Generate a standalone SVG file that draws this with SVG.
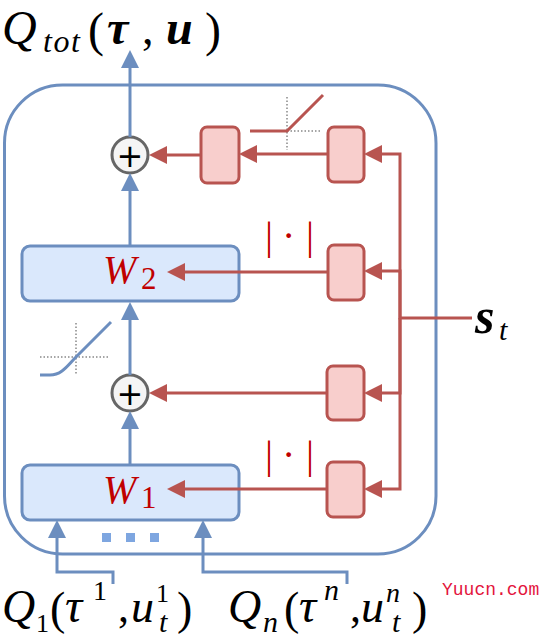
<svg xmlns="http://www.w3.org/2000/svg" width="549" height="640" viewBox="0 0 549 640">
<defs>
<style>
.bl{fill:none;stroke:#6c8ebf;stroke-width:3}
.rd{fill:none;stroke:#b85450;stroke-width:3}
.bbox{fill:#dae8fc;stroke:#6c8ebf;stroke-width:3}
.rbox{fill:#f8cecc;stroke:#b85450;stroke-width:3}
.sum{fill:#f5f5f5;stroke:#666666;stroke-width:3}
.dot{fill:none;stroke:#888888;stroke-width:1.5;stroke-dasharray:1.5 2}
.m{font-family:"Liberation Serif","DejaVu Serif",serif;fill:#000}
.i{font-style:italic}
.b{font-weight:bold;font-style:italic}
.w{fill:#c00000}
.abs{font-family:"Liberation Serif","DejaVu Serif",serif;fill:#c00000;font-size:40px}
.plus{font-family:"DejaVu Sans",sans-serif;font-size:32px;fill:#000;text-anchor:middle}
</style>
<marker id="ab" markerUnits="userSpaceOnUse" markerWidth="20" markerHeight="20" refX="14" refY="9" orient="auto"><path d="M0,0 L18,9 L0,18 z" fill="#6c8ebf"/></marker>
<marker id="ar" markerUnits="userSpaceOnUse" markerWidth="20" markerHeight="20" refX="14" refY="9" orient="auto"><path d="M0,0 L18,9 L0,18 z" fill="#b85450"/></marker>
</defs>
<rect id="mixer" x="4.5" y="85" width="431.5" height="469" rx="58" class="bl"/>
<g id="relu-icon">
<path class="dot" d="M287,97 L287,150 M287,131 L321,131"/>
<path class="rd" d="M250,131 L287,131 L323,95"/>
</g>
<g id="softplus-icon">
<path class="dot" d="M76,323 L76,375 M40,357 L110,357"/>
<path class="bl" d="M40,375 L50,375 C62,375 68,365 76,357 L111,322"/>
</g>
<g id="sum1"><circle cx="130" cy="155" r="18" class="sum"/><text class="plus" x="130" y="166.5">+</text></g>
<g id="sum2"><circle cx="130" cy="393" r="18" class="sum"/><text class="plus" x="130" y="404.5">+</text></g>
<g id="hyper-b2a"><rect x="201" y="127" width="38" height="56" rx="6" class="rbox"/></g>
<g id="hyper-b2b"><rect x="328" y="127" width="36" height="55" rx="6" class="rbox"/></g>
<g id="hyper-w2"><rect x="328" y="245" width="36" height="55" rx="6" class="rbox"/></g>
<g id="hyper-b1"><rect x="327" y="366" width="37" height="54" rx="6" class="rbox"/></g>
<g id="hyper-w1"><rect x="327" y="462" width="37" height="55" rx="6" class="rbox"/></g>
<g id="abs2"><text class="abs" y="249"><tspan x="265">|</tspan><tspan x="282">·</tspan><tspan x="306">|</tspan></text></g>
<g id="abs1"><text class="abs" y="468"><tspan x="265">|</tspan><tspan x="282">·</tspan><tspan x="306">|</tspan></text></g>
<g id="W2"><rect x="22" y="246" width="217" height="55" rx="8" class="bbox"/>
<text class="m w"><tspan class="i" x="103" y="283" font-size="40">W</tspan><tspan x="141" y="289" font-size="31">2</tspan></text></g>
<g id="W1"><rect x="22" y="465" width="217" height="55" rx="8" class="bbox"/>
<text class="m w"><tspan class="i" x="103" y="503" font-size="40">W</tspan><tspan x="141" y="508" font-size="31">1</tspan></text></g>
<g id="agent-dots" fill="#7ea6e0"><rect x="102" y="533" width="9" height="9"/><rect x="126" y="533" width="9" height="9"/><rect x="150" y="533" width="9" height="9"/></g>
<g id="connectors">
<path class="bl" d="M130,137 L130,54" marker-end="url(#ab)"/>
<path class="bl" d="M130,246 L130,177" marker-end="url(#ab)"/>
<path class="bl" d="M130,375 L130,306" marker-end="url(#ab)"/>
<path class="bl" d="M130,465 L130,415" marker-end="url(#ab)"/>
<path class="bl" d="M113,584 L113,572 L57,572 L57,524" marker-end="url(#ab)"/>
<path class="bl" d="M347,584 L347,572 L203,572 L203,524" marker-end="url(#ab)"/>
<path class="rd" d="M472,318 L400,318 L400,154 L368,154" marker-end="url(#ar)"/>
<path class="rd" d="M400,318 L400,271 L368,271" marker-end="url(#ar)"/>
<path class="rd" d="M400,318 L400,393 L368,393" marker-end="url(#ar)"/>
<path class="rd" d="M400,318 L400,489 L368,489" marker-end="url(#ar)"/>
<path class="rd" d="M328,154 L243,154" marker-end="url(#ar)"/>
<path class="rd" d="M201,155 L153,155" marker-end="url(#ar)"/>
<path class="rd" d="M328,272 L171,272" marker-end="url(#ar)"/>
<path class="rd" d="M327,393 L153,393" marker-end="url(#ar)"/>
<path class="rd" d="M327,489 L171,489" marker-end="url(#ar)"/>
</g>
<g id="title"><text class="m"><tspan class="i" x="2" y="44" font-size="48">Q</tspan><tspan class="i" x="43" y="52" font-size="32" letter-spacing="1.5">tot</tspan><tspan x="88" y="46" font-size="48">(</tspan><tspan class="b" x="107" y="44" font-size="48">τ</tspan><tspan x="142" y="44" font-size="46">,</tspan><tspan class="b" x="166" y="44" font-size="48">u</tspan><tspan x="205" y="46" font-size="48">)</tspan></text></g>
<g id="state"><text class="m"><tspan class="b" x="475" y="333" font-size="50">s</tspan><tspan class="i" x="499" y="340" font-size="30">t</tspan></text></g>
<g id="q1"><text class="m"><tspan class="i" x="2" y="622" font-size="46">Q</tspan><tspan x="36" y="632" font-size="26">1</tspan><tspan x="50" y="624" font-size="46">(</tspan><tspan class="i" x="65" y="622" font-size="48">τ</tspan><tspan x="93" y="600" font-size="28">1</tspan><tspan x="118" y="622" font-size="44">,</tspan><tspan class="i" x="131" y="622" font-size="46">u</tspan><tspan x="156" y="602" font-size="26">1</tspan><tspan class="i" x="159" y="632" font-size="30">t</tspan><tspan x="177" y="624" font-size="46">)</tspan></text></g>
<g id="qn"><text class="m"><tspan class="i" x="228" y="622" font-size="46">Q</tspan><tspan class="i" x="263" y="632" font-size="30">n</tspan><tspan x="284" y="624" font-size="46">(</tspan><tspan class="i" x="299" y="622" font-size="48">τ</tspan><tspan class="i" x="324" y="600" font-size="30">n</tspan><tspan x="350" y="622" font-size="44">,</tspan><tspan class="i" x="361" y="622" font-size="46">u</tspan><tspan class="i" x="386" y="602" font-size="28">n</tspan><tspan class="i" x="392" y="632" font-size="30">t</tspan><tspan x="412" y="624" font-size="46">)</tspan></text></g>
<text x="442" y="595" font-family="Liberation Mono,monospace" font-size="18" fill="#e3143c">Yuucn.com</text>
</svg>
